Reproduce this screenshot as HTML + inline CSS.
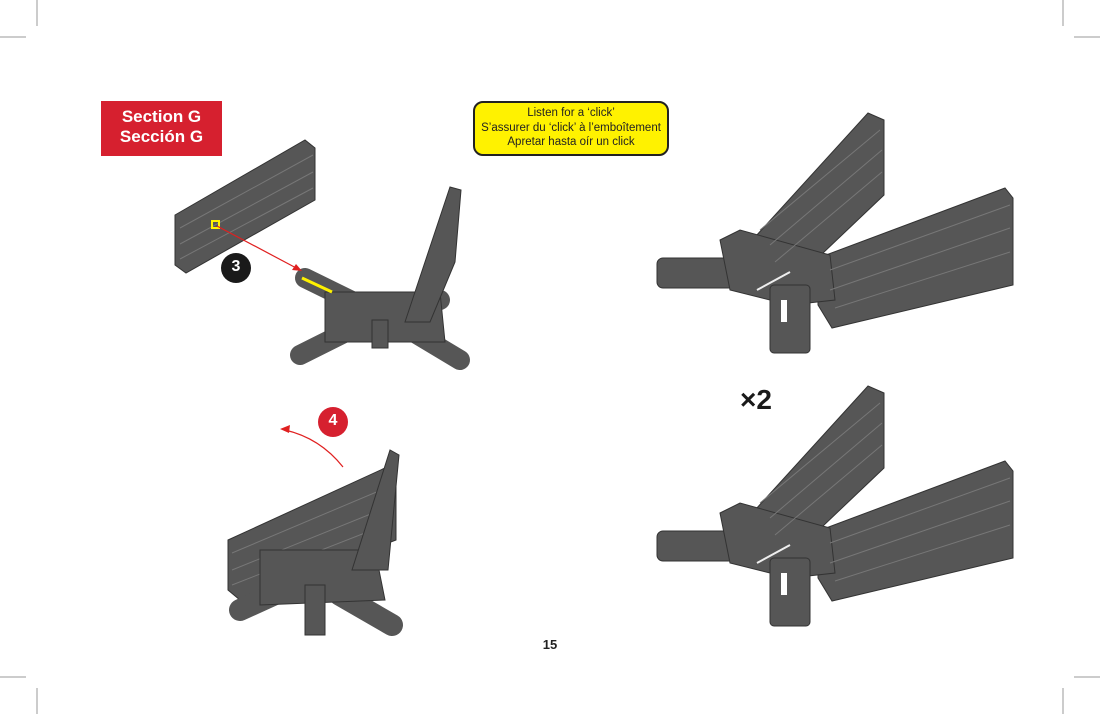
<!DOCTYPE html>
<html><head><meta charset="utf-8"><style>
body{margin:0;background:#fff;width:1100px;height:714px;overflow:hidden;position:relative;font-family:"Liberation Sans",sans-serif}
.t{position:absolute}
</style></head><body>
<svg width="1100" height="714" style="position:absolute;left:0;top:0">
<g stroke="#999" stroke-width="1">
<line x1="37" y1="0" x2="37" y2="26"/><line x1="0" y1="37" x2="26" y2="37"/>
<line x1="1063" y1="0" x2="1063" y2="26"/><line x1="1074" y1="37" x2="1100" y2="37"/>
<line x1="37" y1="688" x2="37" y2="714"/><line x1="0" y1="677" x2="26" y2="677"/>
<line x1="1063" y1="688" x2="1063" y2="714"/><line x1="1074" y1="677" x2="1100" y2="677"/>
</g>
<rect x="101" y="101" width="121" height="55" fill="#d6202f"/>
<rect x="474" y="102" width="194" height="53" rx="9" fill="#fff200" stroke="#222" stroke-width="2"/>
<defs>
<g id="asm" fill="#565656" stroke="#333" stroke-width="1">
<polygon points="745,248 868,113 884,120 884,195 782,292 740,280"/>
<polygon points="818,258 1005,188 1013,198 1013,285 832,328 818,305"/>
<rect x="657" y="258" width="108" height="30" rx="6"/>
<polygon points="720,240 740,230 830,255 835,300 790,305 730,290"/>
<rect x="770" y="285" width="40" height="68" rx="4"/>
<g stroke="#777" fill="none"><line x1="760" y1="230" x2="880" y2="130"/><line x1="770" y1="245" x2="882" y2="150"/><line x1="775" y1="262" x2="882" y2="172"/>
<line x1="830" y1="270" x2="1010" y2="205"/><line x1="830" y1="290" x2="1010" y2="228"/><line x1="835" y1="308" x2="1010" y2="252"/></g>
<line x1="757" y1="290" x2="790" y2="272" stroke="#eee" stroke-width="2"/>
<rect x="781" y="300" width="6" height="22" fill="#fff" stroke="none"/>
</g>
</defs>
<use href="#asm"/>
<use href="#asm" y="273"/>
<g fill="#565656" stroke="#333" stroke-width="1">
<polygon points="175,215 305,140 315,148 315,200 186,273 175,265"/>
<g stroke="#777" fill="none"><line x1="180" y1="228" x2="313" y2="155"/><line x1="180" y1="244" x2="313" y2="172"/><line x1="180" y1="259" x2="313" y2="188"/></g>
<g stroke="#565656" stroke-width="20" stroke-linecap="round"><line x1="305" y1="278" x2="360" y2="305"/><line x1="300" y1="355" x2="350" y2="330"/><line x1="460" y1="360" x2="410" y2="330"/><line x1="440" y1="300" x2="410" y2="310"/></g>
<polygon points="325,292 440,292 445,342 325,342"/>
<rect x="372" y="320" width="16" height="28"/>
<polygon points="405,322 450,187 461,190 455,262 430,322"/>
<polygon points="228,540 385,468 396,475 396,540 240,600 228,590"/>
<g stroke="#777" fill="none"><line x1="232" y1="553" x2="393" y2="485"/><line x1="232" y1="570" x2="393" y2="505"/><line x1="232" y1="585" x2="393" y2="522"/></g>
<g stroke="#565656" stroke-width="22" stroke-linecap="round"><line x1="240" y1="610" x2="295" y2="585"/><line x1="392" y1="625" x2="340" y2="595"/></g>
<polygon points="260,550 375,550 385,600 260,605"/>
<rect x="305" y="585" width="20" height="50"/>
<polygon points="352,570 390,450 399,455 388,570"/>
</g>
<line x1="302" y1="278" x2="332" y2="292" stroke="#fff200" stroke-width="3"/>
<rect x="212" y="221" width="7" height="7" fill="none" stroke="#fff200" stroke-width="2"/>
<line x1="217" y1="226" x2="300" y2="270" stroke="#e02020" stroke-width="1.2"/>
<polygon points="302,271 292,270 296,264" fill="#e02020"/>
<path d="M343,467 Q320,438 285,430" fill="none" stroke="#e02020" stroke-width="1.2"/>
<polygon points="280,429 290,425 289,433" fill="#e02020"/>
<circle cx="236" cy="268" r="15" fill="#1a1a1a"/>
<circle cx="333" cy="422" r="15" fill="#d6202f"/>
</svg>
<div class="t" style="left:101px;top:107px;width:121px;text-align:center;color:#fff;font-weight:bold;font-size:17px;line-height:20px">Section G<br>Sección G</div>
<div class="t" style="left:474px;top:106px;width:194px;text-align:center;color:#222;font-size:11.5px;line-height:14.5px">Listen for a ‘click’<br>S’assurer du ‘click’ à l’emboîtement<br>Apretar hasta oír un click</div>
<div class="t" style="left:221px;top:258px;width:30px;text-align:center;color:#fff;font-weight:bold;font-size:16px">3</div>
<div class="t" style="left:318px;top:412px;width:30px;text-align:center;color:#fff;font-weight:bold;font-size:16px">4</div>
<div class="t" style="left:740px;top:384px;color:#1a1a1a;font-weight:bold;font-size:28px">×2</div>
<div class="t" style="left:535px;top:637px;width:30px;text-align:center;color:#222;font-weight:bold;font-size:13px">15</div>
</body></html>
